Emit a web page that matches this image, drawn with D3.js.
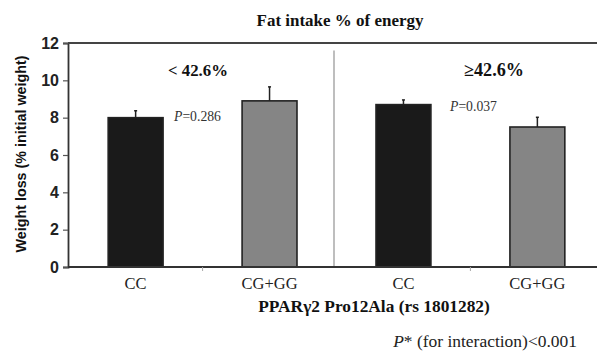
<!DOCTYPE html>
<html><head><meta charset="utf-8">
<script src="https://cdn.jsdelivr.net/npm/d3@7"></script>
<style>body{margin:0;background:#fff}svg{display:block}</style>
</head><body><svg id="c" width="597" height="353"></svg>
<script>
const categories = ["CC", "CG+GG", "CC", "CG+GG"];
const groups = ["< 42.6%", "≥42.6%"];
const values = [8.0, 8.9, 8.7, 7.5];
const errors = [0.37, 0.75, 0.25, 0.52];
const pValues = ["0.286", "0.037"];
const yTicks = [0, 2, 4, 6, 8, 10, 12];

const svg = d3.select("#c");
const pLeft = 68, pRight = 605, pTop = 43, pBottom = 267;
const x = d3.scaleBand().domain(d3.range(categories.length)).range([pLeft, pRight]).paddingInner(0.59).paddingOuter(0.3);
const y = d3.scaleLinear().domain([0, 12]).range([pBottom, pTop]);
const serif = "Liberation Serif, Times New Roman, serif";
const sans = "Liberation Sans, Arial, sans-serif";

// scale a text's font size so it spans the given width
function fit(t, w) {
  const fs = +t.attr("font-size");
  const len = t.node().getComputedTextLength();
  if (len > 0) t.attr("font-size", (fs * w / len).toFixed(2));
  return t;
}

// divider
svg.append("line").attr("x1", 334).attr("x2", 334).attr("y1", y(11.6)).attr("y2", pBottom)
  .attr("stroke", "#a8a8a8").attr("stroke-width", 1.5);

// bars
svg.selectAll("rect.bar").data(values).join("rect")
  .attr("x", (d, i) => x(i)).attr("width", x.bandwidth())
  .attr("y", d => y(d)).attr("height", d => pBottom - y(d))
  .attr("fill", (d, i) => i % 2 ? "#858585" : "#1a1a1a")
  .attr("stroke", "#222").attr("stroke-width", 1.6);

// error bars
svg.selectAll("g.err").data(values).join("g").each(function(d, i) {
  const g = d3.select(this), cx = x(i) + x.bandwidth() / 2;
  g.append("line").attr("x1", cx).attr("x2", cx).attr("y1", y(d)).attr("y2", y(d + errors[i])).attr("stroke", "#222").attr("stroke-width", 1.5);
  g.append("line").attr("x1", cx - 1.5).attr("x2", cx + 1.5).attr("y1", y(d + errors[i])).attr("y2", y(d + errors[i])).attr("stroke", "#222").attr("stroke-width", 1.5);
});

// axes
const yAxis = svg.append("g").attr("transform", `translate(${pLeft},0)`)
  .call(d3.axisLeft(y).tickValues(yTicks).tickSize(5).tickPadding(4));
yAxis.select(".domain").attr("stroke", "#333").attr("stroke-width", 1.8);
yAxis.selectAll(".tick line").attr("stroke", "#555").attr("stroke-width", 1.2);
yAxis.selectAll("text").attr("font-family", sans).attr("font-size", 16).attr("font-weight", "bold").attr("fill", "#222");

svg.append("line").attr("x1", pLeft).attr("x2", 597).attr("y1", pBottom).attr("y2", pBottom).attr("stroke", "#333").attr("stroke-width", 1.8);
svg.append("line").attr("x1", pLeft).attr("x2", 597).attr("y1", pTop).attr("y2", pTop).attr("stroke", "#444").attr("stroke-width", 2);
[1, 3].forEach(k => {
  const tx = x(k) - x.step() * x.paddingInner() / 2;
  svg.append("line").attr("x1", tx).attr("x2", tx).attr("y1", pBottom).attr("y2", pBottom + 4).attr("stroke", "#aaa").attr("stroke-width", 1);
});

// category labels
svg.selectAll("text.cat").data(categories).join("text")
  .attr("x", (d, i) => x(i) + x.bandwidth() / 2).attr("y", 289)
  .attr("text-anchor", "middle").attr("font-family", serif).attr("font-size", 16.5).attr("fill", "#222").text(d => d);

// group labels
[198, 494].forEach((gx, i) => fit(svg.append("text").attr("x", gx).attr("y", 76).attr("text-anchor", "middle")
  .attr("font-family", serif).attr("font-size", 16).attr("font-weight", "bold").attr("fill", "#111").text(groups[i]), 60));

// p values
[[174, 121], [450, 111]].forEach(([px, py], i) => {
  const t = svg.append("text").attr("x", px).attr("y", py).attr("font-family", serif).attr("font-size", 12).attr("fill", "#333");
  t.append("tspan").attr("font-style", "italic").text("P");
  t.append("tspan").text("=" + pValues[i]);
  fit(t, 47);
});

// titles
fit(svg.append("text").attr("x", 340).attr("y", 26).attr("text-anchor", "middle").attr("font-family", serif)
  .attr("font-size", 15).attr("font-weight", "bold").attr("fill", "#111").text("Fat intake % of energy"), 167);
fit(svg.append("text").attr("x", 374).attr("y", 312).attr("text-anchor", "middle").attr("font-family", serif)
  .attr("font-size", 16).attr("font-weight", "bold").attr("fill", "#111").text("PPARγ2 Pro12Ala (rs 1801282)"), 232);
fit(svg.append("text").attr("transform", `translate(26,154) rotate(-90)`).attr("text-anchor", "middle")
  .attr("font-family", sans).attr("font-size", 12).attr("font-weight", "bold").attr("fill", "#111").text("Weight loss (% initial weight)"), 197);
const pi = svg.append("text").attr("x", 577).attr("y", 347).attr("text-anchor", "end").attr("font-family", serif).attr("font-size", 14).attr("fill", "#222");
pi.append("tspan").attr("font-style", "italic").text("P");
pi.append("tspan").text("* (for interaction)<0.001");
fit(pi, 184);
</script></body></html>
